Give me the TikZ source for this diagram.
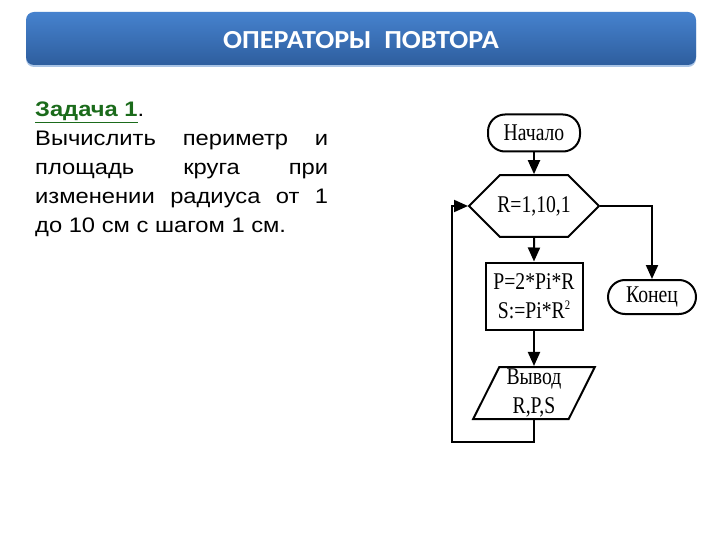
\documentclass[tikz,border=0pt]{standalone}
\usepackage{fontspec}
\setmainfont[FakeStretch=1.13]{Liberation Sans}
\newfontfamily\hdrfont[FakeStretch=1.08]{Carlito}
\newfontfamily\fcfont[FakeStretch=0.82]{Liberation Serif}
\usetikzlibrary{arrows.meta,shapes.misc,shapes.geometric}
\definecolor{hdrtop}{HTML}{4682CE}
\definecolor{hdrbot}{HTML}{2E5E9E}
\definecolor{hdrshadow}{HTML}{A9C4E6}
\definecolor{taskgreen}{HTML}{1B6B1B}
\newcommand{\supertwo}{\raisebox{9pt}{\fontsize{13}{13}\selectfont 2}}
\tikzset{
  fcline/.style={line width=2pt, black},
  fcarrow/.style={fcline, -{Triangle[length=14pt,width=12pt]}},
  fctext/.style={font=\fcfont\fontsize{24}{29}\selectfont},
  terminal/.style={draw, fcline, rectangle, rounded corners=17pt, inner sep=0pt, fctext},
  procbox/.style={draw, fcline, rectangle, inner sep=0pt, align=center, fctext},
  loopbox/.style={draw, fcline, chamfered rectangle, chamfered rectangle xsep=17pt, chamfered rectangle ysep=21pt, inner sep=0pt, fctext},
  iobox/.style={draw, fcline, trapezium, trapezium left angle=67, trapezium right angle=113, trapezium stretches=true, inner sep=0pt, align=center, fctext}
}
\begin{document}
\begin{tikzpicture}[x=1pt,y=-1pt]
\useasboundingbox[fill=white] (0,0) rectangle (720,540);
% header
\fill[hdrshadow, rounded corners=8pt] (26,15) rectangle (696,67);
\shade[top color=hdrtop, bottom color=hdrbot, rounded corners=8pt] (26,12) rectangle (696,65);
\node[text=white, font=\hdrfont\bfseries\fontsize{26}{26}\selectfont] (title) at (361,40) {ОПЕРАТОРЫ\ \ ПОВТОРА};
% task text
\node[anchor=north west, inner sep=0pt, text width=293pt, align=justify,
      font=\fontsize{21}{29}\selectfont] (task) at (35,102)
 {\hyphenpenalty=10000\exhyphenpenalty=10000
  {\color{taskgreen}\bfseries\underline{Задача 1}}.\\
  Вычислить периметр и\linebreak
  площадь круга при\linebreak
  изменении радиуса от 1\linebreak
  до 10 см с шагом 1 см.};
% flowchart
\node[terminal, minimum width=92pt, minimum height=37pt] (start) at (534,133) {Начало};
\node[loopbox, minimum width=130pt, minimum height=42pt] (loop) at (534,206) {R=1,10,1};
\node[procbox, minimum width=97pt, minimum height=67pt] (proc) at (534,296) {P=2*Pi*R\\S:=Pi*R\supertwo};
\node[iobox, minimum width=122pt, minimum height=52pt] (out) at (534,393) {Вывод\\R,P,S};
\node[terminal, minimum width=88pt, minimum height=34pt] (stop) at (652,297) {Конец};
\coordinate (lb) at (452,442);
\draw[fcarrow] (start) -- (loop);
\draw[fcarrow] (loop) -- (proc);
\draw[fcarrow] (proc) -- (out);
\draw[fcarrow] (out.south) |- (lb) |- (loop.west);
\draw[fcarrow] (loop.east) -| (stop.north);
\end{tikzpicture}
\end{document}
